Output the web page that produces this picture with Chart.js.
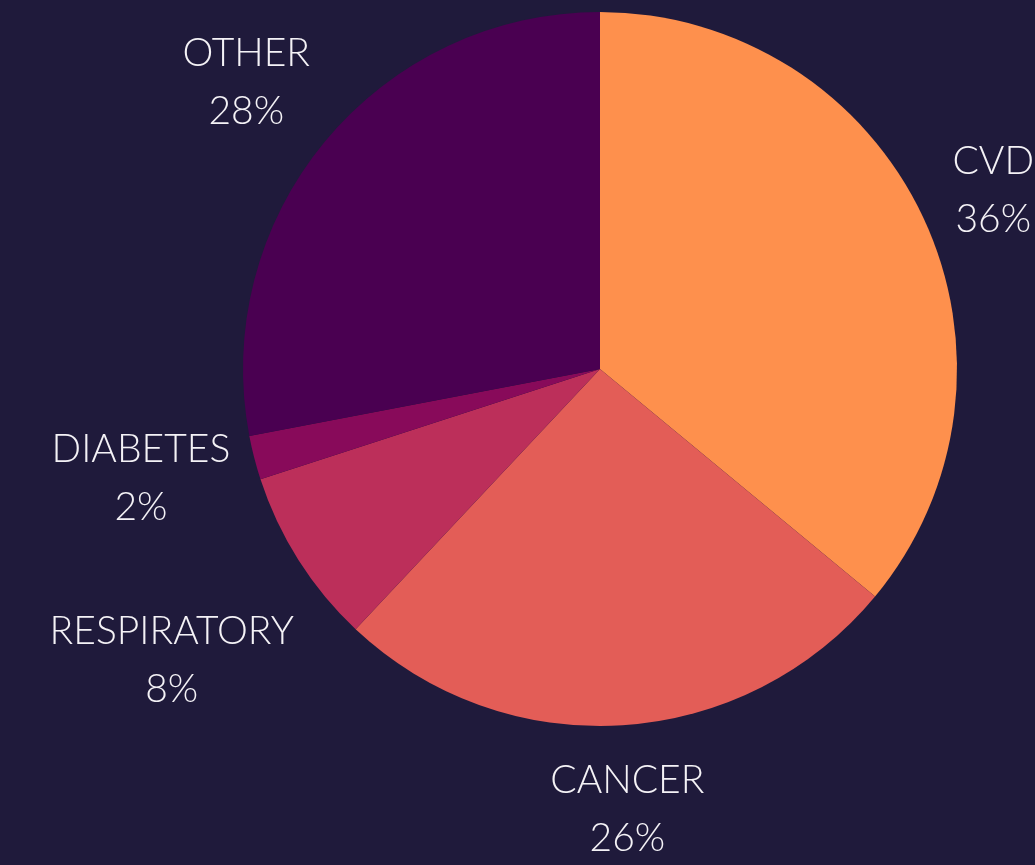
<!DOCTYPE html>
<html>
<head>
<meta charset="utf-8">
<script src="https://cdn.jsdelivr.net/npm/chart.js@4"></script>
<style>
  html, body { margin: 0; padding: 0; background: #1f1a3b; }
  #wrap { width: 1035px; height: 865px; }
</style>
</head>
<body>
<div id="wrap"><canvas id="chart"></canvas></div>
<script>
// data
const categories = ['CVD', 'CANCER', 'RESPIRATORY', 'DIABETES', 'OTHER'];
const shares = [36, 26, 8, 2, 28];
const colours = ['#fe904d', '#e35d57', '#bc2f5a', '#880a5a', '#4a0051'];

const LABEL_FONT = '300 39px Lato';
const LINE_H = 58;
const GAP = 16;
const TEXT_DY = 6;   // baseline nudge for this font
const MIN_SEP = 182; // min vertical distance between label blocks on one side

// labels outside the pie, pushed out along the slice mid angle
const outsideLabels = {
  id: 'outsideLabels',
  afterDatasetsDraw(chart) {
    const ctx = chart.ctx;
    const meta = chart.getDatasetMeta(0);
    ctx.save();
    ctx.font = LABEL_FONT;
    ctx.fillStyle = '#f4f2f6';
    ctx.textAlign = 'center';
    ctx.textBaseline = 'middle';

    const items = meta.data.map((arc, i) => {
      const lines = [categories[i], shares[i] + '%'];
      const w = Math.max(...lines.map(t => ctx.measureText(t).width));
      const h = LINE_H * lines.length;
      const mid = (arc.startAngle + arc.endAngle) / 2;
      const vx = Math.cos(mid), vy = Math.sin(mid);
      const proj = Math.abs(vx) * w / 2 + Math.abs(vy) * h / 2;
      const r = arc.outerRadius + GAP + proj;
      return { lines, x: arc.x + vx * r, y: arc.y + vy * r, side: vx < 0 ? -1 : 1 };
    });

    // simple de-overlap: push neighbours on the same side apart
    [-1, 1].forEach(side => {
      const group = items.filter(it => it.side === side).sort((a, b) => a.y - b.y);
      for (let k = 1; k < group.length; k++) {
        const a = group[k - 1], b = group[k];
        const d = b.y - a.y;
        if (d < MIN_SEP) {
          const push = (MIN_SEP - d) / 2;
          a.y -= push;
          b.y += push;
        }
      }
    });

    items.forEach(it => {
      it.lines.forEach((t, j) => {
        ctx.fillText(t, it.x, it.y + TEXT_DY + (j - (it.lines.length - 1) / 2) * LINE_H);
      });
    });
    ctx.restore();
  }
};

new Chart(document.getElementById('chart'), {
  type: 'pie',
  data: {
    labels: categories,
    datasets: [{
      data: shares,
      backgroundColor: colours,
      borderWidth: 0,
      hoverOffset: 0
    }]
  },
  options: {
    responsive: true,
    maintainAspectRatio: false,
    animation: false,
    layout: { padding: { top: 12, bottom: 139, left: 243, right: 78 } },
    plugins: {
      legend: { display: false },
      tooltip: { enabled: false }
    }
  },
  plugins: [outsideLabels]
});
</script>
</body>
</html>
